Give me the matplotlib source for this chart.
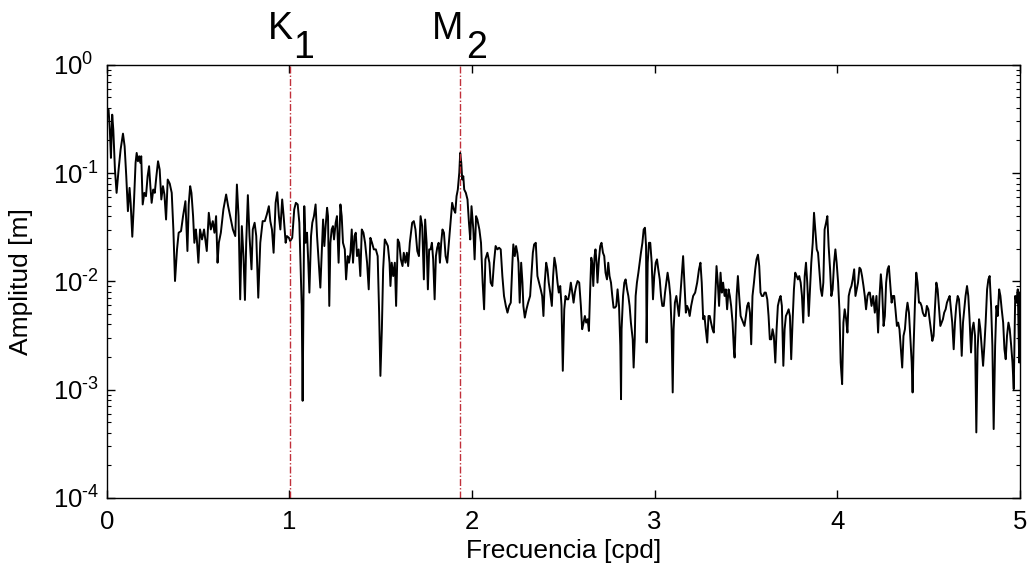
import numpy as np
import matplotlib
matplotlib.use('Agg')
import matplotlib.pyplot as plt
from matplotlib.ticker import LogLocator, NullFormatter, FuncFormatter

plt.rcParams['font.family'] = ['Liberation Sans', 'DejaVu Sans']
plt.rcParams['mathtext.fontset'] = 'custom'
plt.rcParams['mathtext.rm'] = 'Liberation Sans'
plt.rcParams['mathtext.it'] = 'Liberation Sans:italic'
plt.rcParams['mathtext.bf'] = 'Liberation Sans:bold'

# spectrum: frequency [cpd] and log10 of amplitude [m]
freq_cpd = [
    # 0 - 1 cpd
    0.000, 0.009, 0.016, 0.022, 0.029, 0.035, 0.044, 0.053, 0.064, 0.075,
    0.088, 0.097, 0.106, 0.115, 0.124, 0.130, 0.139, 0.148, 0.157, 0.163,
    0.170, 0.177, 0.183, 0.188, 0.196, 0.205, 0.214, 0.223, 0.231, 0.238,
    0.245, 0.254, 0.262, 0.271, 0.280, 0.289, 0.298, 0.307, 0.315, 0.324,
    0.333, 0.344, 0.355, 0.364, 0.373, 0.384, 0.393, 0.406, 0.417, 0.430,
    0.441, 0.448, 0.456, 0.463, 0.472, 0.479, 0.487, 0.492, 0.501, 0.510,
    0.521, 0.532, 0.547, 0.558, 0.569, 0.580, 0.589, 0.598, 0.606, 0.613,
    0.624, 0.638, 0.653, 0.664, 0.679, 0.690, 0.703, 0.712, 0.721, 0.730,
    0.739, 0.748, 0.756, 0.763, 0.772, 0.781, 0.792, 0.799, 0.809, 0.818,
    0.829, 0.840, 0.853, 0.865, 0.876, 0.887, 0.895, 0.904, 0.913, 0.924,
    0.933, 0.942, 0.950, 0.960, 0.968, 0.979, 0.986, 0.997,
    # 1 - 2.1 cpd
    1.004, 1.015, 1.026, 1.035, 1.045, 1.054, 1.061, 1.067, 1.072, 1.078,
    1.081, 1.088, 1.096, 1.103, 1.109, 1.118, 1.125, 1.134, 1.143, 1.151,
    1.160, 1.169, 1.176, 1.184, 1.191, 1.198, 1.206, 1.211, 1.218, 1.224,
    1.231, 1.238, 1.244, 1.253, 1.260, 1.269, 1.279, 1.286, 1.293, 1.303,
    1.310, 1.319, 1.326, 1.334, 1.341, 1.348, 1.356, 1.363, 1.370, 1.379,
    1.388, 1.396, 1.405, 1.414, 1.425, 1.434, 1.443, 1.452, 1.462, 1.473,
    1.483, 1.491, 1.498, 1.506, 1.513, 1.522, 1.531, 1.539, 1.548, 1.553,
    1.560, 1.568, 1.577, 1.584, 1.593, 1.601, 1.610, 1.619, 1.626, 1.635,
    1.643, 1.650, 1.659, 1.672, 1.681, 1.690, 1.700, 1.709, 1.718, 1.727,
    1.736, 1.743, 1.751, 1.758, 1.765, 1.773, 1.780, 1.787, 1.795, 1.802,
    1.809, 1.817, 1.824, 1.831, 1.838, 1.846, 1.855, 1.864, 1.873, 1.882,
    1.891, 1.900, 1.908, 1.915, 1.922, 1.930, 1.935, 1.941, 1.946, 1.952,
    1.957, 1.966, 1.975, 1.983, 1.990, 1.997, 2.007, 2.014, 2.022, 2.029,
    2.040, 2.049, 2.058, 2.066, 2.073, 2.084, 2.095,
    # 2.1 - 3.15 cpd
    2.102, 2.111, 2.120, 2.129, 2.139, 2.148, 2.157, 2.166, 2.175, 2.185,
    2.194, 2.203, 2.212, 2.221, 2.226, 2.234, 2.241, 2.248, 2.254, 2.261,
    2.269, 2.276, 2.281, 2.289, 2.298, 2.307, 2.318, 2.325, 2.333, 2.340,
    2.349, 2.358, 2.367, 2.376, 2.384, 2.391, 2.398, 2.406, 2.413, 2.420,
    2.428, 2.437, 2.444, 2.451, 2.459, 2.468, 2.475, 2.483, 2.490, 2.497,
    2.505, 2.512, 2.519, 2.527, 2.534, 2.541, 2.549, 2.556, 2.563, 2.570,
    2.578, 2.587, 2.596, 2.603, 2.611, 2.618, 2.625, 2.633, 2.640, 2.647,
    2.653, 2.658, 2.664, 2.671, 2.676, 2.682, 2.687, 2.695, 2.702, 2.709,
    2.717, 2.724, 2.731, 2.739, 2.746, 2.753, 2.761, 2.768, 2.775, 2.783,
    2.790, 2.797, 2.805, 2.812, 2.816, 2.819, 2.827, 2.834, 2.841, 2.849,
    2.856, 2.863, 2.870, 2.880, 2.885, 2.891, 2.896, 2.903, 2.911, 2.918,
    2.925, 2.933, 2.940, 2.947, 2.953, 2.956, 2.962, 2.969, 2.976, 2.984,
    2.991, 2.998, 3.006, 3.013, 3.020, 3.028, 3.035, 3.042, 3.050, 3.057,
    3.064, 3.071, 3.079, 3.086, 3.093, 3.099, 3.104, 3.111, 3.119, 3.126,
    3.133,
    # 3.15 - 4.17 cpd
    3.156, 3.163, 3.171, 3.178, 3.185, 3.192, 3.200, 3.211, 3.222, 3.233,
    3.243, 3.251, 3.258, 3.266, 3.273, 3.280, 3.288, 3.295, 3.302, 3.309,
    3.317, 3.324, 3.331, 3.339, 3.346, 3.353, 3.361, 3.368, 3.375, 3.383,
    3.390, 3.397, 3.405, 3.412, 3.419, 3.427, 3.434, 3.438, 3.443, 3.449,
    3.456, 3.463, 3.471, 3.478, 3.485, 3.492, 3.500, 3.507, 3.514, 3.522,
    3.529, 3.536, 3.544, 3.551, 3.558, 3.566, 3.573, 3.580, 3.587, 3.595,
    3.602, 3.609, 3.617, 3.624, 3.631, 3.639, 3.646, 3.653, 3.661, 3.668,
    3.675, 3.683, 3.690, 3.697, 3.705, 3.712, 3.719, 3.727, 3.734, 3.741,
    3.748, 3.756, 3.763, 3.770, 3.778, 3.785, 3.792, 3.800, 3.807, 3.814,
    3.822, 3.829, 3.836, 3.844, 3.851, 3.858, 3.866, 3.873, 3.880, 3.888,
    3.895, 3.902, 3.910, 3.917, 3.924, 3.931, 3.939, 3.946, 3.953, 3.961,
    3.968, 3.975, 3.983, 3.990, 3.997, 4.005, 4.012, 4.019, 4.027, 4.034,
    4.041, 4.049, 4.056, 4.063, 4.071, 4.078, 4.085, 4.093, 4.100, 4.107,
    4.114, 4.122, 4.129, 4.136, 4.144, 4.151, 4.158, 4.166, 4.173,
    # 4.17 - 5 cpd
    4.179, 4.188, 4.197, 4.206, 4.215, 4.224, 4.232, 4.239, 4.246, 4.254,
    4.261, 4.268, 4.276, 4.283, 4.290, 4.298, 4.305, 4.312, 4.319, 4.327,
    4.334, 4.341, 4.349, 4.356, 4.363, 4.371, 4.378, 4.385, 4.393, 4.400,
    4.408, 4.413, 4.418, 4.426, 4.433, 4.440, 4.448, 4.455, 4.462, 4.469,
    4.477, 4.484, 4.491, 4.499, 4.506, 4.513, 4.521, 4.528, 4.535, 4.543,
    4.550, 4.557, 4.565, 4.572, 4.579, 4.586, 4.594, 4.601, 4.608, 4.616,
    4.623, 4.630, 4.638, 4.645, 4.652, 4.660, 4.667, 4.674, 4.682, 4.689,
    4.696, 4.703, 4.711, 4.718, 4.725, 4.733, 4.740, 4.747, 4.755, 4.762,
    4.769, 4.777, 4.784, 4.791, 4.799, 4.806, 4.813, 4.821, 4.828, 4.835,
    4.843, 4.850, 4.857, 4.865, 4.872, 4.879, 4.887, 4.894, 4.901, 4.909,
    4.916, 4.923, 4.930, 4.938, 4.945, 4.953, 4.960, 4.967, 4.975, 4.982,
    4.989, 4.997, 5.000,
]

amp_exp = [
    # 0 - 1 cpd
    -0.430, -0.415, -0.599, -0.860, -0.461, -0.599, -0.968, -1.183, -0.968, -0.783,
    -0.636, -0.753, -1.029, -1.352, -1.137, -1.275, -1.588, -1.275, -0.906, -0.814,
    -0.891, -0.845, -0.906, -0.845, -1.290, -1.183, -1.214, -1.029, -0.937, -1.121,
    -1.275, -1.152, -1.183, -1.029, -0.891, -0.968, -1.244, -1.121, -1.198, -1.429,
    -1.060, -1.097, -1.183, -1.521, -1.997, -1.705, -1.551, -1.536, -1.398, -1.260,
    -1.720, -1.290, -1.121, -1.183, -1.398, -1.644, -1.521, -1.598, -1.828, -1.521,
    -1.613, -1.521, -1.720, -1.367, -1.521, -1.444, -1.551, -1.398, -1.828, -1.644,
    -1.551, -1.336, -1.198, -1.306, -1.429, -1.521, -1.582, -1.106, -1.398, -2.166,
    -1.490, -1.767, -2.172, -1.644, -1.204, -1.582, -1.889, -1.521, -1.459, -1.582,
    -2.151, -1.644, -1.444, -1.444, -1.382, -1.306, -1.444, -1.521, -1.736, -1.275,
    -1.177, -1.398, -1.521, -1.244, -1.398, -1.644, -1.582, -1.598,
    # 1 - 2.1 cpd
    -1.628, -1.598, -1.336, -1.275, -1.290, -1.459, -1.889, -2.227, -3.103, -1.828,
    -1.306, -1.644, -1.551, -1.828, -2.104, -1.582, -1.459, -1.398, -1.290, -1.582,
    -1.828, -2.058, -1.767, -1.429, -1.674, -1.490, -1.321, -1.398, -2.227, -1.644,
    -1.521, -1.490, -1.613, -1.459, -1.398, -1.828, -1.290, -1.398, -1.644, -1.705,
    -1.982, -1.767, -1.828, -1.736, -1.521, -1.828, -1.582, -1.551, -1.767, -1.705,
    -1.951, -1.521, -1.551, -1.644, -1.828, -2.074, -1.598, -1.644, -1.705, -1.705,
    -1.767, -2.289, -2.873, -2.442, -1.889, -1.613, -1.644, -1.674, -1.828, -2.043,
    -1.828, -1.951, -1.828, -2.227, -1.613, -1.644, -1.797, -1.859, -1.736, -1.828,
    -1.736, -1.859, -1.644, -1.459, -1.444, -1.521, -1.720, -1.767, -1.398, -1.490,
    -1.982, -1.429, -1.644, -2.074, -1.705, -1.705, -1.644, -1.797, -2.166, -1.767,
    -1.690, -1.644, -1.828, -1.644, -1.521, -1.551, -1.767, -1.828, -1.644, -1.459,
    -1.275, -1.336, -1.367, -1.214, -1.152, -0.998, -0.814, -0.906, -1.060, -1.029,
    -1.152, -1.183, -1.244, -1.459, -1.613, -1.306, -1.521, -1.797, -1.398, -1.429,
    -1.521, -1.644, -2.012, -2.258, -1.797, -1.736, -1.828,
    # 2.1 - 3.15 cpd
    -2.012, -2.043, -1.828, -1.674, -1.705, -1.690, -1.705, -1.951, -2.135, -2.227,
    -2.289, -2.227, -2.197, -1.828, -1.659, -1.767, -1.674, -1.736, -1.828, -2.197,
    -1.828, -2.012, -2.227, -2.335, -2.258, -2.197, -2.135, -1.951, -1.736, -1.659,
    -1.644, -1.951, -2.012, -2.074, -2.135, -2.320, -2.012, -1.828, -1.889, -2.012,
    -2.104, -2.227, -1.951, -1.782, -1.859, -2.012, -2.104, -2.043, -2.227, -2.826,
    -2.258, -2.135, -2.166, -2.166, -2.104, -2.012, -2.104, -2.197, -2.104, -2.043,
    -1.997, -2.012, -2.227, -2.442, -2.381, -2.320, -2.381, -2.350, -2.458, -2.074,
    -1.782, -1.828, -2.043, -1.767, -1.705, -1.828, -2.012, -1.797, -1.674, -1.644,
    -1.736, -1.767, -1.920, -1.982, -1.828, -1.951, -2.012, -2.135, -2.243, -2.243,
    -2.227, -2.074, -2.227, -2.596, -3.088, -2.442, -2.135, -2.012, -1.982, -2.074,
    -2.135, -2.227, -2.381, -2.535, -2.796, -2.535, -2.135, -2.012, -1.920, -1.828,
    -1.736, -1.644, -1.521, -1.505, -1.674, -2.565, -1.828, -1.644, -1.644, -1.828,
    -2.166, -1.951, -1.828, -1.797, -1.889, -1.982, -2.135, -2.227, -2.227, -2.104,
    -2.012, -1.920, -2.012, -2.135, -2.442, -3.026, -2.442, -2.197, -2.135, -2.227,
    -2.320,
    # 3.15 - 4.17 cpd
    -1.767, -2.012, -2.289, -2.227, -2.258, -2.320, -2.227, -2.135, -2.104, -2.012,
    -1.889, -1.828, -2.012, -2.350, -2.320, -2.442, -2.565, -2.320, -2.320, -2.381,
    -2.442, -2.473, -2.197, -1.859, -2.012, -2.227, -1.920, -2.104, -2.012, -2.135,
    -2.074, -2.258, -2.074, -2.135, -2.227, -2.381, -2.627, -2.704, -2.442, -2.135,
    -1.951, -2.135, -2.320, -2.350, -2.381, -2.412, -2.320, -2.227, -2.197, -2.289,
    -2.581, -2.135, -2.012, -1.889, -1.797, -1.754, -1.859, -2.104, -2.135, -2.135,
    -2.104, -2.104, -2.166, -2.320, -2.535, -2.535, -2.442, -2.504, -2.750, -2.442,
    -2.227, -2.166, -2.135, -2.227, -2.780, -2.442, -2.320, -2.289, -2.258, -2.320,
    -2.719, -2.350, -2.074, -1.920, -1.951, -1.982, -1.951, -2.012, -2.135, -2.381,
    -1.951, -1.828, -2.012, -2.320, -2.074, -1.828, -1.644, -1.367, -1.521, -1.705,
    -1.736, -1.889, -2.074, -2.135, -2.012, -1.521, -1.459, -1.398, -1.674, -1.889,
    -2.135, -2.074, -1.828, -1.705, -1.828, -2.012, -2.258, -2.750, -2.949, -2.381,
    -2.258, -2.350, -2.473, -2.135, -2.074, -2.043, -1.982, -1.889, -2.135, -2.074,
    -2.012, -1.874, -1.889, -1.951, -2.043, -2.135, -2.258, -2.135, -2.104,
    # 4.17 - 5 cpd
    -2.104, -2.227, -2.135, -2.289, -2.135, -2.473, -2.135, -1.935, -2.074, -2.412,
    -2.320, -2.012, -1.889, -1.859, -2.012, -2.197, -2.135, -2.135, -2.258, -2.412,
    -2.381, -2.442, -2.627, -2.796, -2.504, -2.442, -2.289, -2.197, -2.289, -2.504,
    -2.750, -3.026, -2.627, -2.197, -1.920, -2.012, -2.197, -2.197, -2.227, -2.289,
    -2.320, -2.320, -2.227, -2.258, -2.350, -2.442, -2.550, -2.504, -2.258, -2.012,
    -2.074, -2.227, -2.412, -2.381, -2.350, -2.289, -2.258, -2.197, -2.166, -2.135,
    -2.258, -2.381, -2.627, -2.381, -2.227, -2.135, -2.166, -2.350, -2.688, -2.381,
    -2.258, -2.135, -2.043, -2.135, -2.350, -2.657, -2.442, -2.381, -2.504, -3.395,
    -2.627, -2.350, -2.442, -2.596, -2.780, -2.596, -2.381, -2.074, -1.982, -1.951,
    -2.227, -2.596, -3.364, -2.596, -2.227, -2.320, -2.074, -2.135, -2.258, -2.381,
    -2.627, -2.719, -2.504, -2.381, -2.442, -2.596, -2.750, -2.995, -2.135, -2.197,
    -2.074, -2.750, -2.104,
]

# tidal constituents marked on the spectrum
constituents = ['K', 'M']
constituent_subs = ['1', '2']
constituent_freqs = [1.0027, 1.9323]

x_ticks = [0, 1, 2, 3, 4, 5]

amplitude = 10.0 ** np.array(amp_exp)


def decade_label(value, pos):
    # 10^n with a plain hyphen for the sign, as in the original figure
    exp = int(round(np.log10(value)))
    if exp < 0:
        return r'$\mathdefault{10^{\text{-}%d}}$' % (-exp)
    return r'$\mathdefault{10^{%d}}$' % exp


fig = plt.figure(figsize=(10.28, 5.73), dpi=100)
ax = fig.add_axes([0.104, 0.131, 0.888, 0.756])

ax.semilogy(freq_cpd, amplitude, color='black', linewidth=1.4)

for name, sub, f in zip(constituents, constituent_subs, constituent_freqs):
    ax.axvline(f, color='#c0303a', linewidth=1.0, linestyle=(0, (5, 1.5, 1, 1.5)))
    # main letter with a full-size, lowered subscript (MATLAB style)
    ax.annotate(name, xy=(f, 1), xycoords=('data', 'axes fraction'),
                xytext=(4 if name == 'M' else 3, 26), textcoords='offset pixels',
                ha='right', va='baseline', fontsize=27)
    ax.annotate(sub, xy=(f, 1), xycoords=('data', 'axes fraction'),
                xytext=(6 if name == 'M' else 3, 7), textcoords='offset pixels',
                ha='left', va='baseline', fontsize=27)

ax.set_xlim(0, 5)
ax.set_ylim(1e-4, 1)
ax.set_xticks(x_ticks)
ax.yaxis.set_major_locator(LogLocator(base=10, numticks=10))
ax.yaxis.set_major_formatter(FuncFormatter(decade_label))
ax.yaxis.set_minor_locator(LogLocator(base=10, subs=np.arange(2, 10), numticks=10))
ax.yaxis.set_minor_formatter(NullFormatter())

ax.tick_params(which='both', direction='in', top=True, right=True, labelsize=18.5)
ax.tick_params(which='major', length=6, width=1.0)
ax.tick_params(which='minor', length=3, width=0.8)
ax.tick_params(axis='x', pad=9)
# y labels start at a common left edge, like the original figure
ax.tick_params(axis='y', pad=39)
for label in ax.get_yticklabels():
    label.set_horizontalalignment('left')
for spine in ax.spines.values():
    spine.set_linewidth(1.0)

ax.set_xlabel('Frecuencia [cpd]', fontsize=19, labelpad=3)
ax.set_ylabel('Amplitud [m]', fontsize=19, labelpad=14)

fig.savefig('out.png', dpi=100)
